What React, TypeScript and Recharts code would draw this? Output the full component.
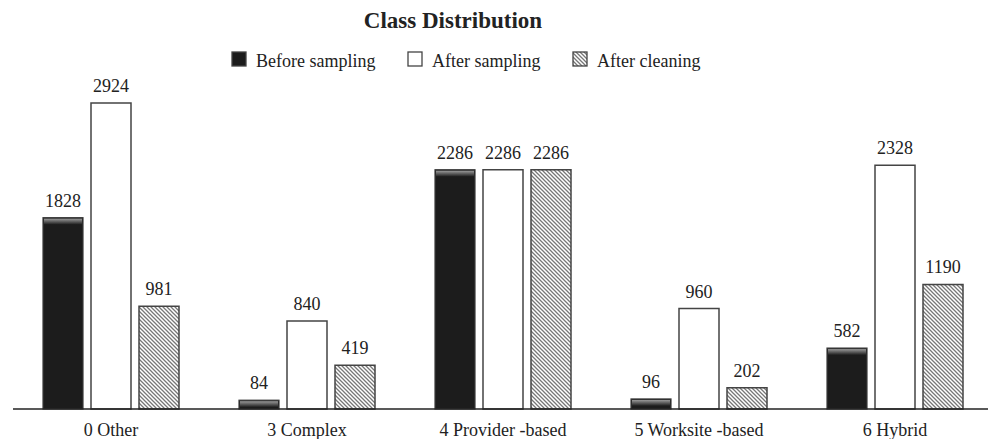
import { BarChart, Bar, XAxis, YAxis, LabelList } from "recharts";

const categories = [
  "0 Other",
  "3 Complex",
  "4 Provider -based",
  "5 Worksite -based",
  "6 Hybrid",
];
const beforeSampling = [1828, 84, 2286, 96, 582];
const afterSampling = [2924, 840, 2286, 960, 2328];
const afterCleaning = [981, 419, 2286, 202, 1190];

const FONT = "Liberation Serif, DejaVu Serif, serif";

const data = categories.map((name, i) => ({
  name,
  before: beforeSampling[i],
  after: afterSampling[i],
  cleaned: afterCleaning[i],
}));

// black bar with the little bevel on top
function DarkBar(props: any) {
  const { x, y, width, height } = props;
  if (!height || height <= 0) return null;
  const hl = Math.min(6, height - 1);
  return (
    <g>
      <rect x={x} y={y} width={width} height={height} fill="#1c1c1c" stroke="#3a3a3a" strokeWidth={1.2} />
      {hl > 0 && (
        <rect x={x + 1} y={y + 1} width={width - 2} height={hl} fill="url(#bevel)" />
      )}
    </g>
  );
}

function Header() {
  const items = [
    { label: "Before sampling", x: 232, fill: "#1c1c1c" },
    { label: "After sampling", x: 408, fill: "#ffffff" },
    { label: "After cleaning", x: 573, fill: "url(#hatchLegend)" },
  ];
  return (
    <svg
      width={988}
      height={80}
      style={{ position: "absolute", left: 0, top: 0, pointerEvents: "none" }}
    >
      <defs>
        <pattern id="hatchLegend" patternUnits="userSpaceOnUse" width={4} height={4}>
          <rect width={4} height={4} fill="#fff" />
          <path d="M0,0 L4,4 M-1,3 L1,5 M3,-1 L5,1" stroke="#777" strokeWidth={1.3} />
        </pattern>
      </defs>
      <text x={453} y={28} textAnchor="middle" style={{ fontFamily: FONT }} fontSize={23} fontWeight="bold" fill="#222">
        Class Distribution
      </text>
      {items.map((it) => (
        <g key={it.label}>
          <rect x={it.x} y={52} width={14} height={14} fill={it.fill} stroke="#444" strokeWidth={1.3} />
          <text x={it.x + 24} y={67} style={{ fontFamily: FONT }} fontSize={18} fill="#222">
            {it.label}
          </text>
        </g>
      ))}
    </svg>
  );
}

export default function App() {
  const labelStyle = { fontFamily: FONT, fontSize: 18, fill: "#222" };
  return (
    <div
      style={{
        position: "fixed",
        left: 0,
        top: 0,
        width: 988,
        height: 439,
        overflow: "hidden",
        background: "#fff",
        fontFamily: FONT,
      }}
    >
      <BarChart
        width={993}
        height={439}
        data={data}
        margin={{ top: 95, right: 0, left: 13, bottom: 0 }}
        barSize={40}
        barGap={8}
        style={{ fontFamily: FONT }}
      >
        <defs>
          <linearGradient id="bevel" x1="0" y1="0" x2="0" y2="1">
            <stop offset="0%" stopColor="#9a9a9a" />
            <stop offset="100%" stopColor="#1c1c1c" />
          </linearGradient>
          <pattern id="hatch" patternUnits="userSpaceOnUse" width={4} height={4}>
            <rect width={4} height={4} fill="#fff" />
            <path d="M0,0 L4,4 M-1,3 L1,5 M3,-1 L5,1" stroke="#777" strokeWidth={1.3} />
          </pattern>
        </defs>
        <XAxis
          dataKey="name"
          height={30}
          tickLine={false}
          tickMargin={8}
          axisLine={{ stroke: "#222", strokeWidth: 1.5 }}
          tick={labelStyle}
          interval={0}
        />
        <YAxis hide domain={[0, 3000]} />
        <Bar dataKey="before" shape={DarkBar} isAnimationActive={false}>
          <LabelList dataKey="before" position="top" offset={11} style={labelStyle} />
        </Bar>
        <Bar dataKey="after" fill="#fff" stroke="#444" strokeWidth={1.5} isAnimationActive={false}>
          <LabelList dataKey="after" position="top" offset={11} style={labelStyle} />
        </Bar>
        <Bar dataKey="cleaned" fill="url(#hatch)" stroke="#444" strokeWidth={1.5} isAnimationActive={false}>
          <LabelList dataKey="cleaned" position="top" offset={11} style={labelStyle} />
        </Bar>
      </BarChart>
      <Header />
    </div>
  );
}
